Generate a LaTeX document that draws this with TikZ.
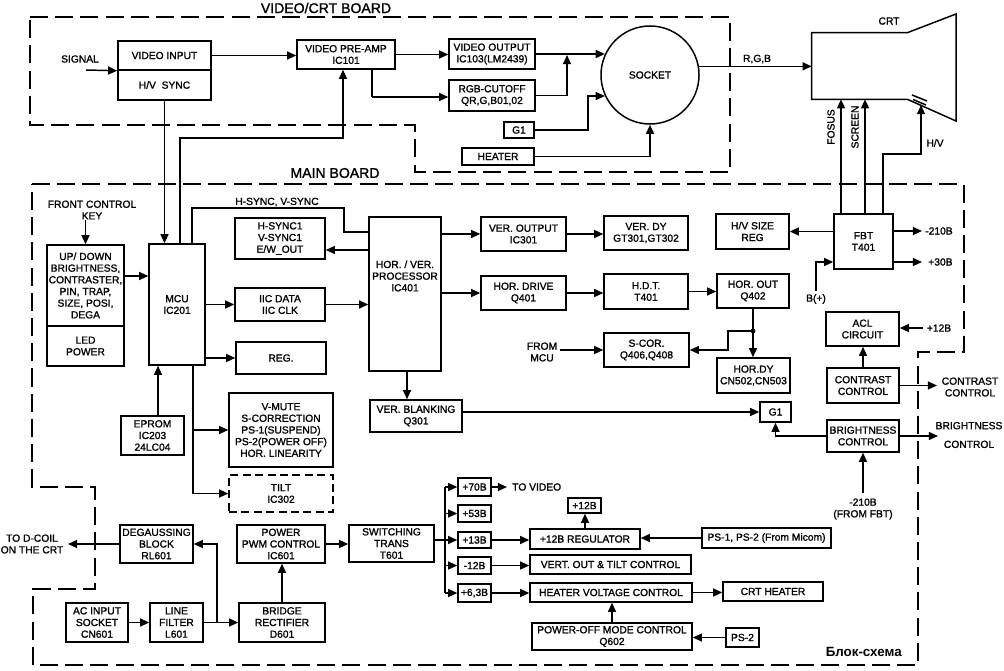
\documentclass[tikz,border=0pt]{standalone}
\usepackage{fontspec}
\setmainfont{Liberation Sans}
\newfontfamily\scanfont{Liberation Sans}[FakeBold=1.3]
\usetikzlibrary{arrows.meta,fit,calc}
\newcommand\dfont{\fontsize{7.3}{8.3}\selectfont\scanfont}
\newcommand\bx[7][]{\node[box,#1,fit={(#3,#4) (#5,#6)}] (#2) {};\node[lbl] (#2-t) at (#2.center) {#7};}
\begin{document}
\begin{tikzpicture}[x=0.025cm,y=-0.025cm,
  box/.style={draw,line width=1.05pt,inner sep=0pt},
  lbl/.style={inner sep=0pt,align=center,font=\dfont},
  arr/.style={line width=1.05pt,-{Triangle[length=2.3mm,width=2mm]}},
  ln/.style={line width=1.05pt},
  board/.style={line width=1.4pt,dash pattern=on 4.5mm off 1.8mm},
  title/.style={inner sep=0pt,font=\fontsize{10}{12}\selectfont\scanfont},
]
\useasboundingbox[fill=white] (0,0) rectangle (1004,670);

% ---------- boards ----------
\draw[board] (30,17) -- (730,17) -- (730,172) -- (415,172) -- (415,125) -- (30,125) -- cycle;
\draw[board] (32,184) -- (964,184) -- (964,352) -- (918,352) -- (918,665) -- (33,665) -- (33,589) -- (95,589) -- (95,487) -- (32,487) -- cycle;
\node[title] (t1) at (326,8) {VIDEO/CRT BOARD};
\node[title] (t2) at (335,173) {MAIN BOARD};

% ---------- video/crt board ----------
\bx{vinA}{118}{41}{211}{70}{VIDEO INPUT}
\bx{vinB}{118}{70}{211}{100}{H/V\ \ SYNC}
\bx{pre}{297}{40}{395}{69}{VIDEO PRE-AMP\\IC101}
\bx{vout}{449}{39}{535}{69}{VIDEO OUTPUT\\IC103(LM2439)}
\bx{rgb}{449}{80}{535}{111}{RGB-CUTOFF\\QR,G,B01,02}
\bx{g1a}{504}{122}{534}{138}{G1}
\bx{heat}{462}{148}{534}{165}{HEATER}
\node[draw,circle,line width=1.05pt,minimum size=2.45cm,inner sep=0pt,font=\dfont] (sock) at (650,75) {SOCKET};
\node[lbl] (sig) at (80,59) {SIGNAL};
\coordinate (sigc) at (86,70);
\draw[arr] (sigc) -- (vinA.south west);
\draw[arr] (vinA.east) -- (vinA.east -| pre.west);
\draw[arr] (pre.east) -- (pre.east -| vout.west);
\draw[arr] (vout.east) -- (vout.east -| sock.155);
\coordinate (jn) at (567,55);
\draw[arr] (rgb.east) -| (jn);
\draw[ln] (372,0 |- pre.south) |- (372,97);
\draw[arr] (372,97) -- (rgb.west |- 0,97);
\draw[arr] (g1a.east) -| (588,0 |- sock.205) -- (sock.205);
\draw[arr] (heat.east) -| (sock.south);

% CRT
\node[fit={(812,33) (907,99)},inner sep=0pt] (crt) {};
\draw[ln] (crt.north west) -- (crt.north east) -- (956,14) -- (956,121) -- (crt.south east) -- (crt.south west) -- cycle;
\node[lbl] (crtl) at (889,21) {CRT};
\draw[arr] (sock.10) -- (sock.10 -| crt.west);
\node[lbl] (rgbl) at (757,59) {R,G,B};
\draw[ln] (912,95) -- (927,101);
\draw[ln] (913,99.5) -- (926,105);

% ---------- main board ----------
\node[lbl] (fck) at (92,210) {FRONT CONTROL\\KEY};
\bx{ud}{47}{245}{124}{326}{UP/ DOWN\\BRIGHTNESS,\\CONTRASTER,\\PIN, TRAP,\\SIZE, POSI,\\DEGA}
\bx{led}{47}{326}{124}{366}{LED\\POWER}
\bx{mcu}{149}{244}{205}{365}{MCU\\IC201}
\bx{hs1}{235}{218}{325}{259}{H-SYNC1\\V-SYNC1\\E/W\_OUT}
\bx{iic}{235}{288}{325}{321}{IIC DATA\\IIC CLK}
\bx{reg}{236}{342}{326}{374}{REG.}
\bx{vmute}{229}{393}{333}{467}{V-MUTE\\S-CORRECTION\\PS-1(SUSPEND)\\PS-2(POWER OFF)\\HOR. LINEARITY}
\bx[dash pattern=on 2mm off 1.1mm]{tilt}{229}{475}{333}{512}{TILT\\IC302}
\bx{eprom}{121}{416}{184}{455}{EPROM\\IC203\\24LC04}

\draw[arr] (fck.south -| ud.north) -- (ud.north);
\draw[arr] (ud.east |- 0,276) -- (mcu.west |- 0,276);
\draw[arr] (vinB.south) -- (vinB.south |- mcu.north);
\draw[arr] (180,0 |- mcu.north) -- (180,138) -- (343,138) -- (343,0 |- pre.south);
\node[lbl] (hsl) at (277,202) {H-SYNC, V-SYNC};
\draw[arr] (mcu.east |- iic.west) -- (iic.west);
\draw[arr] (mcu.east |- reg.west) -- (reg.west);
\draw[arr] (193,0 |- mcu.south) |- (tilt.west);
\draw[arr] (193,0 |- vmute.west) -- (vmute.west);
\draw[arr] (158,0 |- eprom.north) -- (158,0 |- mcu.south);

% processor
\node[box,fit={(369,217) (441,371)}] (proc) {};
\node[lbl] (procl) at (405,276) {HOR. / VER.\\PROCESSOR\\IC401};
\draw[ln] (192,0 |- mcu.north) -- (192,208) -- (344,208) -- (344,232) -- (proc.west |- 0,232);
\draw[arr] (proc.west |- 0,250) -- (hs1.east |- 0,250);
\draw[arr] (iic.east) -- (iic.east -| proc.west);

\bx{vero}{481}{217}{566}{251}{VER. OUTPUT\\IC301}
\bx{verdy}{604}{216}{688}{250}{VER. DY\\GT301,GT302}
\bx{hdrv}{481}{276}{566}{310}{HOR. DRIVE\\Q401}
\bx{hdt}{604}{274}{688}{309}{H.D.T.\\T401}
\bx{hout}{717}{274}{789}{308}{HOR. OUT\\Q402}
\bx{scor}{604}{333}{689}{367}{S-COR.\\Q406,Q408}
\bx{hordy}{717}{358}{790}{393}{HOR.DY\\CN502,CN503}
\bx{vblank}{370}{400}{462}{432}{VER. BLANKING\\Q301}
\bx{g1b}{760}{402}{791}{422}{G1}
\node[lbl] (fmcu) at (542,352) {FROM\\MCU};

\draw[arr] (proc.east |- vero.west) -- (vero.west);
\draw[arr] (vero.east) -- (vero.east -| verdy.west);
\draw[arr] (proc.east |- hdrv.west) -- (hdrv.west);
\draw[arr] (hdrv.east) -- (hdrv.east -| hdt.west);
\draw[arr] (hdt.east) -- (hdt.east -| hout.west);
\draw[arr] (hout.south) -- (hout.south |- hordy.north);
\coordinate (dot) at (hout.south |- 0,331);
\fill (dot) circle (2.4);
\draw[arr] (dot) -| (728,340) |- (scor.east);
\draw[arr] (scor.west -| 560,0) -- (scor.west);
\draw[arr] (407,0 |- proc.south) -- (407,0 |- vblank.north);
\draw[arr] (vblank.east |- g1b.west) -- (g1b.west);

% right column
\bx{hvsize}{716}{214}{789}{249}{H/V SIZE\\REG}
\bx{fbt}{834}{214}{893}{269}{FBT\\T401}
\bx{acl}{826}{312}{899}{346}{ACL\\CIRCUIT}
\bx{contr}{827}{368}{899}{403}{CONTRAST\\CONTROL}
\bx{bright}{827}{420}{899}{452}{BRIGHTNESS\\CONTROL}
\draw[arr] (fbt.west |- hvsize.east) -- (hvsize.east);
\coordinate (e210) at (922,231);
\coordinate (e30) at (922,262);
\draw[arr] (fbt.east |- e210) -- (e210);
\draw[arr] (fbt.east |- e30) -- (e30);
\node[lbl,anchor=west] (l210) at (925,231) {-210B};
\node[lbl,anchor=west] (l30) at (928,262) {+30B};
\coordinate (bp) at (816,291);
\draw[arr] (bp) |- (fbt.west |- e30);
\node[lbl] (bpl) at (816,299) {B(+)};
\draw[arr] (841,0 |- fbt.north) -- (841,0 |- crt.south);
\draw[arr] (865,0 |- fbt.north) -- (865,0 |- crt.south);
\draw[arr] (883,0 |- fbt.north) -- (883,154) -- (921,154) -- (921,105);
\node[lbl,rotate=90] (fos) at (831,127) {FOSUS};
\node[lbl,rotate=90] (scr) at (855,127) {SCREEN};
\node[lbl] (hvl) at (935,143) {H/V};

\coordinate (a12) at (923,328);
\draw[arr] (a12) -- (a12 -| acl.east);
\node[lbl] (l12) at (939,328) {+12B};
\draw[arr] (contr.north) -- (contr.north |- acl.south);
\coordinate (ec) at (937,0 |- contr.east);
\draw[arr] (contr.east) -- (ec);
\node[lbl] (cl) at (970,387) {CONTRAST\\CONTROL};
\coordinate (eb) at (938,0 |- bright.east);
\draw[arr] (bright.east) -- (eb);
\node[lbl] (bl) at (969,435) {BRIGHTNESS\\[5pt]CONTROL};
\draw[arr] (bright.west) -| (g1b.south);
\coordinate (m210) at (bright.south |- 0,493);
\draw[arr] (m210) -- (bright.south);
\node[lbl] (l210b) at (863,509) {-210B\\(FROM FBT)};

% ---------- power ----------
\bx{degauss}{120}{525}{193}{563}{DEGAUSSING\\BLOCK\\RL601}
\bx{pwm}{237}{525}{325}{563}{POWER\\PWM CONTROL\\IC601}
\bx{bridge}{239}{603}{325}{642}{BRIDGE\\RECTIFIER\\D601}
\bx{acin}{66}{603}{128}{642}{AC INPUT\\SOCKET\\CN601}
\bx{lf}{150}{603}{203}{642}{LINE\\FILTER\\L601}
\bx{sw}{349}{525}{434}{562}{SWITCHING\\TRANS\\T601}
\node[lbl] (dcl) at (32,544) {TO D-COIL\\ON THE CRT};
\coordinate (dce) at (68,0 |- degauss.west);
\draw[arr] (degauss.west) -- (dce);
\draw[arr] (acin.east) -- (lf.west);
\draw[arr] (lf.east) -- (bridge.west);
\draw[arr] (217,0 |- lf.east) |- (degauss.east);
\draw[arr] (bridge.north) -- (bridge.north |- pwm.south);
\draw[arr] (pwm.east) -- (pwm.east -| sw.west);

\bx{v70}{458}{478}{491}{496}{+70B}
\bx{v53}{458}{505}{491}{522}{+53B}
\bx{v13}{458}{532}{491}{548}{+13B}
\bx{vm12}{458}{557}{491}{574}{-12B}
\bx{v63}{458}{584}{491}{602}{+6,3B}
\draw[ln] (sw.east |- v13.west) -- (445,0 |- v13.west);
\draw[ln] (445,0 |- v70.west) -- (445,0 |- v63.west);
\foreach \v in {v70,v53,v13,vm12,v63} \draw[arr] (445,0 |- \v.west) -- (\v.west);
\coordinate (tv) at (507,0 |- v70.east);
\draw[arr] (v70.east) -- (tv);
\node[lbl,anchor=west] (tvl) at (512,487) {TO VIDEO};

\bx{reg12}{530}{529}{640}{549}{+12B REGULATOR}
\bx{b12}{568}{498}{601}{513}{+12B}
\bx{ps12}{702}{528}{831}{548}{PS-1, PS-2 (From Micom)}
\bx{vert}{530}{555}{691}{574}{VERT. OUT \& TILT CONTROL}
\bx{hvc}{530}{583}{692}{602}{HEATER VOLTAGE CONTROL}
\bx{crth}{723}{582}{823}{601}{CRT HEATER}
\bx{poff}{532}{623}{692}{650}{POWER-OFF MODE CONTROL\\Q602}
\bx{ps2}{726}{628}{759}{647}{PS-2}
\draw[arr] (v13.east) -- (v13.east -| reg12.west);
\draw[arr] (reg12.north) -- (reg12.north |- b12.south);
\draw[arr] (ps12.west) -- (ps12.west -| reg12.east);
\draw[arr] (vm12.east) -- (vm12.east -| vert.west);
\draw[arr] (v63.east) -- (v63.east -| hvc.west);
\draw[arr] (hvc.east) -- (hvc.east -| crth.west);
\draw[arr] (poff.north) -- (poff.north |- hvc.south);
\draw[arr] (ps2.west) -- (ps2.west -| poff.east);

\node[inner sep=0pt,anchor=east,font=\fontsize{9.5}{11}\selectfont\bfseries] (bs) at (902,652) {Блок-схема};
\end{tikzpicture}
\end{document}
